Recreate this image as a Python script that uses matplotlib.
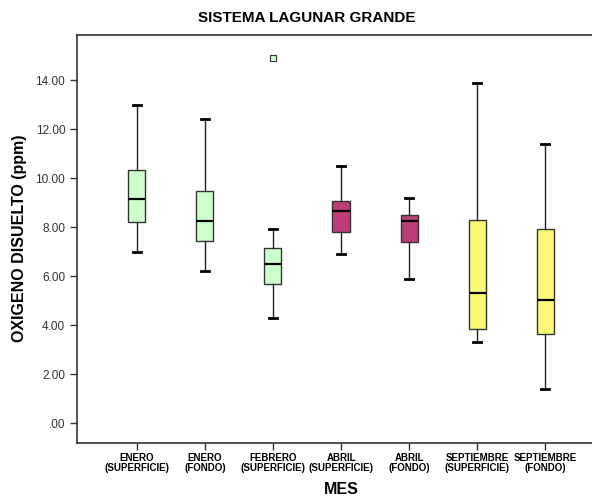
import matplotlib
matplotlib.use('Agg')
import matplotlib.pyplot as plt

plt.rcParams['font.family'] = ['Liberation Sans', 'DejaVu Sans']

# data
categories = ['ENERO\n(SUPERFICIE)', 'ENERO\n(FONDO)', 'FEBRERO\n(SUPERFICIE)',
              'ABRIL\n(SUPERFICIE)', 'ABRIL\n(FONDO)',
              'SEPTIEMBRE\n(SUPERFICIE)', 'SEPTIEMBRE\n(FONDO)']
whislo = [7.00, 6.20, 4.30, 6.91, 5.90, 3.32, 1.41]
q1 = [8.22, 7.43, 5.70, 7.82, 7.41, 3.85, 3.66]
med = [9.16, 8.27, 6.50, 8.65, 8.26, 5.31, 5.05]
q3 = [10.35, 9.49, 7.17, 9.09, 8.50, 8.31, 7.94]
whishi = [13.00, 12.42, 7.94, 10.51, 9.20, 13.90, 11.40]
fliers = [[], [], [14.90], [], [], [], []]
colors = ['#ccffcc', '#ccffcc', '#ccffcc', '#bf3c7a', '#bf3c7a', '#fafa78', '#fafa78']
yticks = [0, 2, 4, 6, 8, 10, 12, 14]

stats = []
for i in range(len(categories)):
    stats.append(dict(whislo=whislo[i], q1=q1[i], med=med[i], q3=q3[i],
                      whishi=whishi[i], fliers=fliers[i]))

fig = plt.figure(figsize=(5.92, 4.97), dpi=100)
ax = fig.add_axes([77/592, 1 - 443/497, 1 - 77/592, (443 - 35)/497])

pos = list(range(1, len(categories) + 1))
bp = ax.bxp(stats, positions=pos, widths=0.25, patch_artist=True,
            boxprops=dict(edgecolor='#333333', linewidth=1),
            whiskerprops=dict(color='#222222', linewidth=1),
            capprops=dict(color='black', linewidth=2),
            medianprops=dict(color='black', linewidth=1.6),
            flierprops=dict(marker='s', markersize=5, markerfacecolor='#ccffcc',
                            markeredgecolor='#333333', markeredgewidth=0.8),
            capwidths=0.12)
for patch, c in zip(bp['boxes'], colors):
    patch.set_facecolor(c)

ax.set_xlim(0.123, 7.686)
ax.set_ylim(-0.8, 15.85)
ax.set_yticks(yticks)
ax.set_yticklabels(['.00' if v == 0 else '%.2f' % v for v in yticks],
                   fontsize=8.5, color='#333333')
ax.set_xticks(pos)
ax.set_xticklabels(categories, fontsize=7, fontweight='bold', linespacing=0.95)
ax.tick_params(axis='both', direction='out', length=5, width=1, color='#333333')
ax.tick_params(axis='x', pad=2.5)

for s in ['left', 'bottom', 'top']:
    ax.spines[s].set_color('#333333')
    ax.spines[s].set_linewidth(1.2)
ax.spines['right'].set_visible(False)

fig.text(307/592, 1 - 18/497, 'SISTEMA LAGUNAR GRANDE', ha='center', va='center',
         fontsize=11, fontweight='bold')
fig.text(341/592, 1 - 489/497, 'MES', ha='center', va='center',
         fontsize=11.5, fontweight='bold')
fig.text(20/592, 1 - 238/497, 'OXIGENO DISUELTO (ppm)', ha='center', va='center',
         rotation=90, fontsize=11.5, fontweight='bold')

fig.savefig('out.png', dpi=100)
